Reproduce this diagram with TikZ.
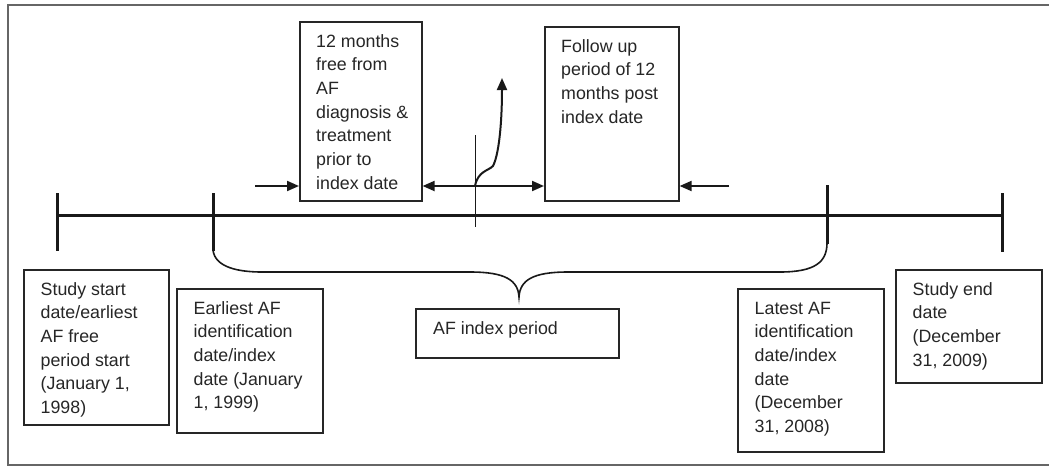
\documentclass[tikz,border=0pt]{standalone}
\usepackage{fontspec}
\setmainfont{Liberation Sans}
\usetikzlibrary{arrows.meta}
\begin{document}
\begin{tikzpicture}[x=1pt,y=-1pt,
  box/.style={draw=black!85, line width=1.6pt, anchor=north west, inner sep=0pt},
  txt/.style={anchor=base west, align=left, inner sep=0pt, font=\fontsize{17.8}{23.7}\selectfont, text=black!85},
  arr/.style={draw=black!90, line width=2pt, -{Triangle[length=12pt,width=10pt]}},
  darr/.style={draw=black!90, line width=2pt, {Triangle[length=12pt,width=10pt]}-{Triangle[length=12pt,width=10pt]}},
  thick line/.style={draw=black!90, line width=3pt},
  brace line/.style={draw=black!90, line width=1.6pt},
  frame/.style={draw=black!60, line width=1.6pt}
]
\useasboundingbox (0,0) rectangle (1049,466);
% frame
\draw[frame] (1049,5) -- (8,5) -- (8,465) -- (1049,465);

% boxes
\node[box, minimum width=145, minimum height=155] (b1) at (23,269) {};
\node[box, minimum width=146, minimum height=144] (b2) at (176,288) {};
\node[box, minimum width=203, minimum height=49]  (bi) at (415,308) {};
\node[box, minimum width=146, minimum height=163] (bl) at (737,288) {};
\node[box, minimum width=146, minimum height=113] (be) at (895,269) {};
\node[box, minimum width=122, minimum height=179] (bt1) at (299,21) {};
\node[box, minimum width=134, minimum height=174] (bt2) at (544,26) {};

% texts (anchored at the baseline of the last line)
\node[txt] (t1) at (40.5,413.5) {Study start\\date/earliest\\AF free\\period start\\(January 1,\\1998)};
\node[txt] (t2) at (193.5,408.8) {Earliest AF\\identification\\date/index\\date (January\\1, 1999)};
\node[txt] (ti) at (433,334) {AF index period};
\node[txt] (tl) at (754.5,432.5) {Latest AF\\identification\\date/index\\date\\(December\\31, 2008)};
\node[txt] (te) at (912.5,366.1) {Study end\\date\\(December\\31, 2009)};
\node[txt] (tt1) at (316,189.2) {12 months\\free from\\AF\\diagnosis \&\\treatment\\prior to\\index date};
\node[txt] (tt2) at (561,123.1) {Follow up\\period of 12\\months post\\index date};

% timeline
\coordinate (p0) at (57,215);
\coordinate (p1) at (213,215);
\coordinate (p2) at (827,215);
\coordinate (p3) at (1002,215);
\draw[thick line] (p0) -- (p3);
\draw[thick line] (57,193) -- (57,251);
\draw[thick line] (213,193) -- (213,251);
\draw[thick line] (827,185) -- (827,244);
\draw[thick line] (1002,193) -- (1002,252);

% brace
\draw[brace line] (213,250) .. controls (215,268) and (240,272) .. (262,272)
  -- (470,272) .. controls (505,272) and (518,280) .. (519,297)
  .. controls (520,280) and (533,272) .. (568,272)
  -- (780,272) .. controls (815,272) and (827,262) .. (827,243);

% index date marker and arrows
\coordinate (la) at (255,186);
\coordinate (ra) at (729,186);
\coordinate (idx) at (475,186);
\draw[draw=black!90, line width=1pt] (475,135) -- (475,227);
\draw[arr] (la) -- (bt1.west |- la);
\draw[darr] (bt1.east |- la) -- (bt2.west |- la);
\draw[arr] (ra) -- (bt2.east |- ra);
\draw[arr] (idx) .. controls (478,171) and (488,171) .. (493,166)
  .. controls (500,152) and (502,115) .. (502,78);
\end{tikzpicture}
\end{document}
